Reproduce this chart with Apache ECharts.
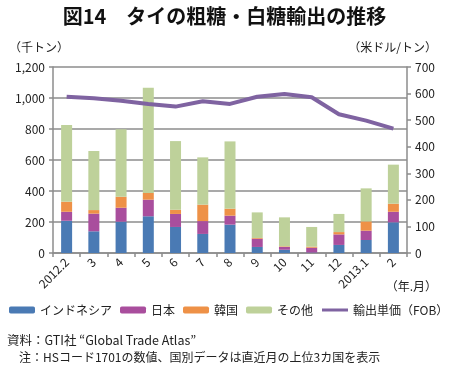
<!DOCTYPE html>
<html>
<head>
<meta charset="utf-8">
<script src="https://cdn.jsdelivr.net/npm/echarts@6/dist/echarts.min.js"></script>
<style>
  html, body { margin: 0; padding: 0; background: #fff; }
  #chart { width: 449px; height: 375px; }
</style>
</head>
<body>
<div id="chart"></div>
<script>
// タイの粗糖・白糖輸出（千トン）と輸出単価（米ドル/トン）
var months = ['2012.2', '3', '4', '5', '6', '7', '8', '9', '10', '11', '12', '2013.1', '2'];
var indonesia = [208, 140, 202, 237, 168, 123, 183, 39, 21, 3, 52, 84, 198];
var japan = [58, 114, 90, 107, 84, 83, 58, 53, 18, 31, 68, 60, 68];
var korea = [65, 23, 71, 43, 27, 106, 45, 5, 4, 7, 15, 60, 52];
var others = [495, 381, 435, 679, 443, 305, 434, 165, 187, 127, 117, 213, 252];
var unitPrice = [588, 582, 573, 561, 551, 571, 561, 588, 598, 586, 522, 498, 468];

var font = '"Noto Sans CJK JP", "Noto Sans", sans-serif';
var gridGray = '#8c8c8c';

var myChart = echarts.init(document.getElementById('chart'));

function barSeries(name, data, color) {
    return {
        name: name,
        type: 'bar',
        stack: 'total',
        barWidth: 11,
        itemStyle: { color: color },
        data: data
    };
}

var legendText = { fontSize: 12, color: '#222', fontFamily: font };

var option = {
    backgroundColor: '#fff',
    textStyle: { fontFamily: font },
    animation: false,
    grid: {
        left: 53,
        right: 42,
        top: 67,
        bottom: 122
    },
    legend: [
        {
            left: 9,
            top: 304,
            padding: 0,
            itemWidth: 26,
            itemHeight: 7,
            itemGap: 8,
            textStyle: legendText,
            data: ['インドネシア', '日本', '韓国', 'その他']
        },
        {
            left: 322,
            top: 304,
            padding: 0,
            itemWidth: 26,
            itemHeight: 3,
            textStyle: legendText,
            data: [{ name: '輸出単価（FOB）', icon: 'rect' }]
        }
    ],
    xAxis: [
        {
            type: 'category',
            data: months,
            axisLine: { lineStyle: { color: gridGray, width: 1.5 } },
            axisTick: { show: true, alignWithLabel: false, length: 4, lineStyle: { color: gridGray, width: 1.5 } },
            axisLabel: { rotate: 45, fontSize: 12, color: '#222', margin: 7, interval: 0 }
        }
    ],
    yAxis: [
        {
            type: 'value',
            min: 0,
            max: 1200,
            interval: 200,
            axisLine: { show: true, lineStyle: { color: gridGray, width: 1.5 } },
            axisTick: { show: true, length: 4, lineStyle: { color: gridGray, width: 1.5 } },
            splitLine: { lineStyle: { color: gridGray, width: 1.5 } },
            axisLabel: {
                fontSize: 12, color: '#222', margin: 8,
                formatter: function (v) { return v.toLocaleString('en-US'); }
            }
        },
        {
            type: 'value',
            min: 0,
            max: 700,
            interval: 100,
            position: 'right',
            axisLine: { show: true, lineStyle: { color: gridGray, width: 1.5 } },
            axisTick: { show: true, length: 4, lineStyle: { color: gridGray, width: 1.5 } },
            splitLine: { show: false },
            axisLabel: { fontSize: 12, color: '#222', margin: 8 }
        }
    ],
    series: [
        barSeries('インドネシア', indonesia, '#4a7ab4'),
        barSeries('日本', japan, '#a94e9d'),
        barSeries('韓国', korea, '#ee9147'),
        barSeries('その他', others, '#bed19a'),
        {
            name: '輸出単価（FOB）',
            type: 'line',
            yAxisIndex: 1,
            symbol: 'none',
            smooth: false,
            lineStyle: { color: '#7f63a1', width: 4 },
            itemStyle: { color: '#7f63a1' },
            data: unitPrice
        }
    ],
    graphic: [
        {
            type: 'text', left: 'center', top: 6,
            style: { text: '図14　タイの粗糖・白糖輸出の推移', font: 'bold 20px ' + font, fill: '#111' }
        },
        {
            type: 'text', left: 9, top: 41,
            style: { text: '（千トン）', font: '12px ' + font, fill: '#222' }
        },
        {
            type: 'text', right: 12, top: 41,
            style: { text: '（米ドル/トン）', font: '12px ' + font, fill: '#222' }
        },
        {
            type: 'text', right: 12, top: 280,
            style: { text: '（年.月）', font: '12px ' + font, fill: '#222' }
        },
        {
            type: 'text', left: 7, top: 334,
            style: { text: '資料：GTI社 “Global Trade Atlas”', font: '12.5px ' + font, fill: '#222' }
        },
        {
            type: 'text', left: 7, top: 351,
            style: { text: '　注：HSコード1701の数値、国別データは直近月の上位3カ国を表示', font: '12px ' + font, fill: '#222' }
        }
    ]
};

myChart.setOption(option);
</script>
</body>
</html>
